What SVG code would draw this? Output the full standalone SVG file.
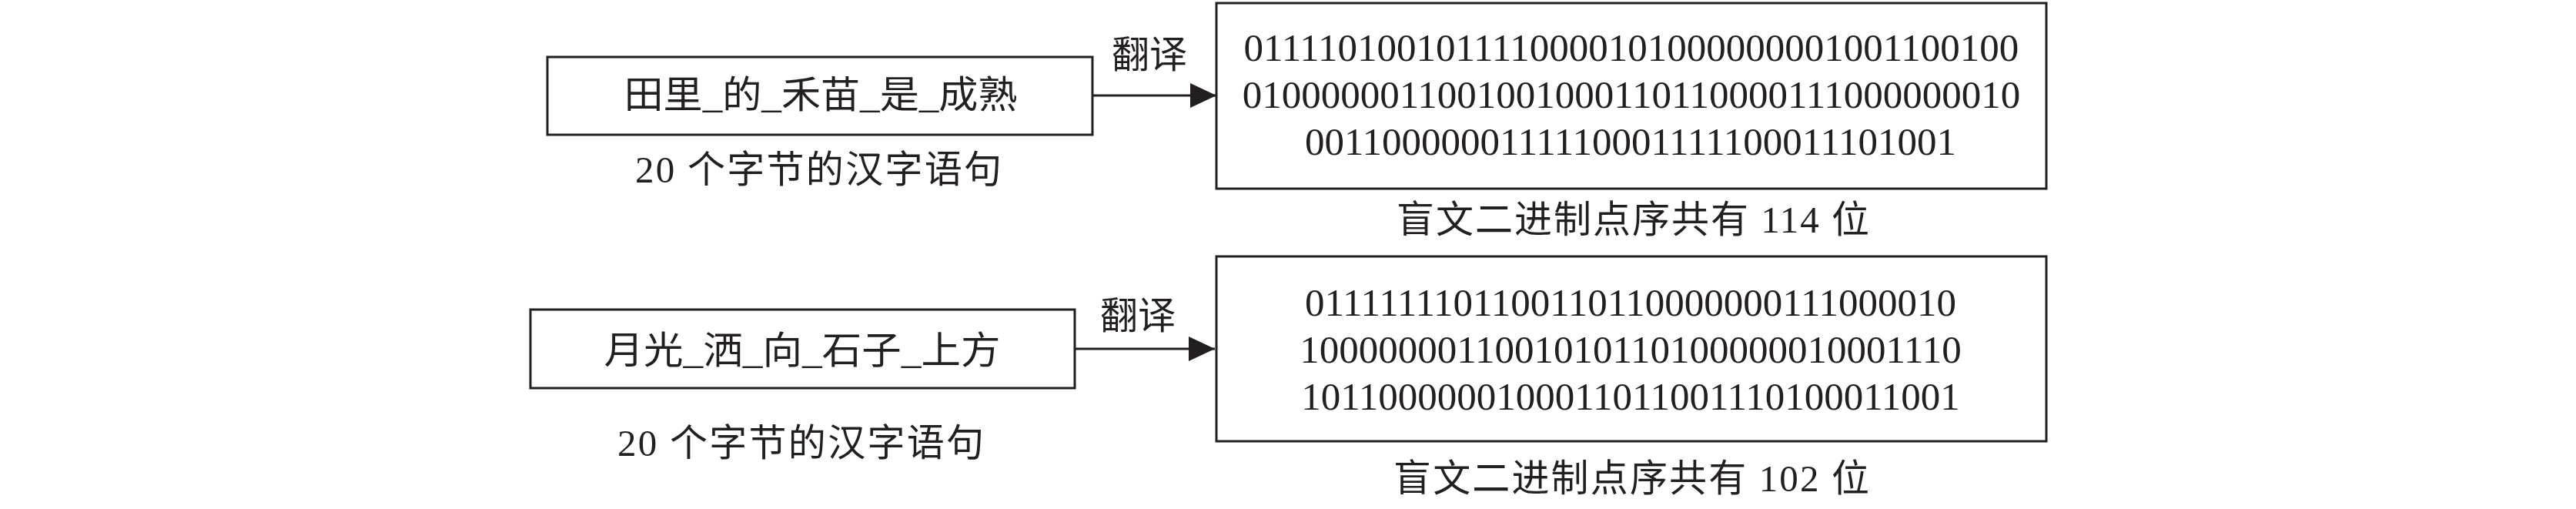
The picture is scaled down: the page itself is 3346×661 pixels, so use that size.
<svg xmlns="http://www.w3.org/2000/svg" width="3346" height="661" viewBox="0 0 3346 661">
<style>
.box{fill:#fff;stroke:#231f20;stroke-width:3}
.t{font-family:"Liberation Serif","Noto Sans CJK SC",serif;fill:#231f20;text-anchor:middle}
.cn{font-size:49px}
.bin{font-size:51px}
.conn{stroke:#231f20;stroke-width:3;fill:none}
</style>
<defs>
<marker id="ah" markerUnits="userSpaceOnUse" markerWidth="35" markerHeight="34" refX="34" refY="17" orient="auto">
<path d="M0,1 L34,17 L0,33 z" fill="#231f20"/>
</marker>
</defs>
<rect width="3346" height="661" fill="#fff"/>
<g id="connectors">
<line class="conn" x1="1419" y1="124" x2="1580" y2="124" marker-end="url(#ah)"/>
<text class="t cn" x="1493" y="88">翻译</text>
<line class="conn" x1="1396" y1="453" x2="1578" y2="453" marker-end="url(#ah)"/>
<text class="t cn" x="1478" y="427">翻译</text>
</g>
<g id="src1">
<rect class="box" x="711" y="74" width="708" height="101"/>
<text class="t cn" x="1066" y="140" textLength="511" lengthAdjust="spacingAndGlyphs">田里_的_禾苗_是_成熟</text>
<text class="t cn" x="1063" y="237" textLength="476" lengthAdjust="spacing">20 个字节的汉字语句</text>
</g>
<g id="bin1">
<rect class="box" x="1580" y="4" width="1078" height="241"/>
<text class="t bin" x="2119" y="79">0111101001011110000101000000001001100100</text>
<text class="t bin" x="2119" y="140">0100000011001001000110110000111000000010</text>
<text class="t bin" x="2118" y="201">0011000000111110001111100011101001</text>
<text class="t cn" x="2121" y="302" textLength="614" lengthAdjust="spacing">盲文二进制点序共有 114 位</text>
</g>
<g id="src2">
<rect class="box" x="689" y="402" width="707" height="102"/>
<text class="t cn" x="1042" y="472" textLength="515" lengthAdjust="spacingAndGlyphs">月光_洒_向_石子_上方</text>
<text class="t cn" x="1040" y="592" textLength="476" lengthAdjust="spacing">20 个字节的汉字语句</text>
</g>
<g id="bin2">
<rect class="box" x="1580" y="333" width="1078" height="240"/>
<text class="t bin" x="2118" y="410">0111111101100110110000000111000010</text>
<text class="t bin" x="2118" y="471">1000000011001010110100000010001110</text>
<text class="t bin" x="2118" y="532">1011000000100011011001110100011001</text>
<text class="t cn" x="2119" y="638" textLength="618" lengthAdjust="spacing">盲文二进制点序共有 102 位</text>
</g>
</svg>
